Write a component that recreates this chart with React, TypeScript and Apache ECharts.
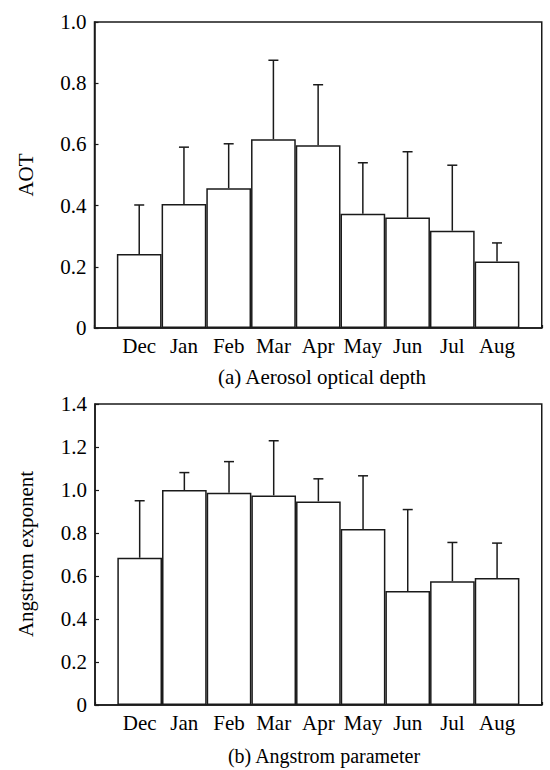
import React, { useEffect, useRef } from "react";
import * as echarts from "echarts";

const months = ["Dec", "Jan", "Feb", "Mar", "Apr", "May", "Jun", "Jul", "Aug"];
const aotMean = [0.242, 0.405, 0.457, 0.617, 0.597, 0.373, 0.361, 0.318, 0.217];
const aotUpper = [0.402, 0.591, 0.602, 0.875, 0.795, 0.54, 0.576, 0.532, 0.278];
const angMean = [0.685, 1.0, 0.987, 0.975, 0.947, 0.819, 0.53, 0.576, 0.591];
const angUpper = [0.95, 1.081, 1.132, 1.229, 1.052, 1.066, 0.909, 0.756, 0.753];
const aotTicks = { min: 0, max: 1.0, interval: 0.2 };
const angTicks = { min: 0, max: 1.4, interval: 0.2 };
const captionA = "(a) Aerosol optical depth";
const captionB = "(b) Angstrom parameter";
const nameA = "AOT";
const nameB = "Angstrom exponent";

const FONT = "'Liberation Serif', 'Times New Roman', serif";
const INK = "#1a1a1a";
const FS = 21;

export default function App() {
  const ref = useRef<HTMLDivElement>(null);
  useEffect(() => {
    if (!ref.current) return;
    const chart = echarts.init(ref.current, null, { renderer: "svg" });
    const cats = [" ", ...months, "  "];

    const xAxisFor = (gi: number) => ({
      type: "category",
      gridIndex: gi,
      data: cats,
      boundaryGap: false,
      axisLine: { show: true, lineStyle: { color: INK, width: 1.5 } },
      axisTick: { show: true, inside: true, length: 3, interval: 0, lineStyle: { color: INK, width: 1.2 } },
      axisLabel: { interval: 0, color: "#000", fontFamily: FONT, fontSize: FS, margin: 7 },
      splitLine: { show: false },
    });
    const yAxisFor = (gi: number, t: { min: number; max: number; interval: number }) => ({
      type: "value",
      gridIndex: gi,
      min: t.min,
      max: t.max,
      interval: t.interval,
      axisLine: { show: true, lineStyle: { color: INK, width: 1.5 } },
      axisTick: { show: true, inside: true, length: 4, lineStyle: { color: INK, width: 1.2 } },
      axisLabel: {
        color: "#000",
        fontFamily: FONT,
        fontSize: FS,
        margin: 8,
        formatter: (v: number) => (v === 0 ? "0" : v.toFixed(1)),
      },
      splitLine: { show: false },
    });

    const errSeries = (gi: number, mean: number[], upper: number[]) => ({
      type: "custom",
      xAxisIndex: gi,
      yAxisIndex: gi,
      z: 5,
      encode: { x: 0, y: [1, 2] },
      data: mean.map((m, i) => [i + 1, m, upper[i]]),
      renderItem: (params: any, api: any) => {
        const x = api.value(0);
        const p0 = api.coord([x, api.value(1)]);
        const p1 = api.coord([x, api.value(2)]);
        const hw = 5;
        const style = { stroke: INK, lineWidth: 1.5 };
        return {
          type: "group",
          children: [
            { type: "line", shape: { x1: p0[0], y1: p0[1], x2: p1[0], y2: p1[1] }, style },
            { type: "line", shape: { x1: p1[0] - hw, y1: p1[1], x2: p1[0] + hw, y2: p1[1] }, style },
          ],
        };
      },
    });

    const barSeries = (gi: number, mean: number[]) => ({
      type: "bar",
      xAxisIndex: gi,
      yAxisIndex: gi,
      barWidth: "100%",
      z: 3,
      data: mean.map((m, i) => [i + 1, m]),
      itemStyle: { color: "#fff", borderColor: INK, borderWidth: 1.5 },
      emphasis: { disabled: true },
    });

    chart.setOption({
      animation: false,
      backgroundColor: "#fff",
      grid: [
        { left: 94.5, top: 22, right: 1, height: 306, show: true, borderColor: INK, borderWidth: 1.5, backgroundColor: "transparent" },
        { left: 95, top: 404, right: 1, height: 301, show: true, borderColor: INK, borderWidth: 1.5, backgroundColor: "transparent" },
      ],
      xAxis: [xAxisFor(0), xAxisFor(1)],
      yAxis: [yAxisFor(0, aotTicks), yAxisFor(1, angTicks)],
      series: [
        barSeries(0, aotMean),
        errSeries(0, aotMean, aotUpper),
        barSeries(1, angMean),
        errSeries(1, angMean, angUpper),
      ],
      graphic: [
        {
          type: "text",
          x: 26,
          y: 175,
          rotation: Math.PI / 2,
          style: { text: nameA, fill: "#000", font: `${FS}px ${FONT}`, align: "center", verticalAlign: "middle" },
        },
        {
          type: "text",
          x: 26,
          y: 554,
          rotation: Math.PI / 2,
          style: { text: nameB, fill: "#000", font: `${FS}px ${FONT}`, align: "center", verticalAlign: "middle" },
        },
        {
          type: "text",
          x: 322,
          y: 377,
          style: { text: captionA, fill: "#000", font: `${FS}px ${FONT}`, align: "center", verticalAlign: "middle" },
        },
        {
          type: "text",
          x: 324,
          y: 756,
          style: { text: captionB, fill: "#000", font: `20px ${FONT}`, align: "center", verticalAlign: "middle" },
        },
      ],
    });
    return () => chart.dispose();
  }, []);
  return (
    <div
      ref={ref}
      style={{ position: "absolute", left: 0, top: 0, width: 550, height: 770 }}
    />
  );
}
